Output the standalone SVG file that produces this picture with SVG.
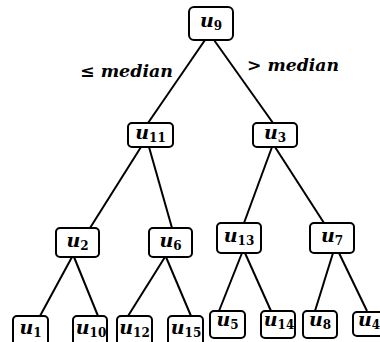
<svg xmlns="http://www.w3.org/2000/svg" width="380" height="342" viewBox="0 0 380 342">
<style>
.box{fill:#fff;stroke:#000;stroke-width:2;}
.lbl{font-family:"DejaVu Serif","Liberation Serif",serif;font-weight:bold;font-style:italic;font-size:19px;fill:#000;text-anchor:middle;}
.sub{font-style:normal;font-size:12px;}
.edge{stroke:#000;stroke-width:2;fill:none;}
.cond{font-family:"DejaVu Serif","Liberation Serif",serif;font-weight:bold;font-style:italic;font-size:17px;fill:#000;}
</style>
<rect width="380" height="342" fill="#fff"/>
<g id="connectors">
<line class="edge" x1="205" y1="40" x2="148" y2="123"/>
<line class="edge" x1="214" y1="40" x2="273" y2="123"/>
<line class="edge" x1="141" y1="147" x2="90" y2="228"/>
<line class="edge" x1="149" y1="147" x2="172" y2="228"/>
<line class="edge" x1="272" y1="147" x2="244" y2="223"/>
<line class="edge" x1="275" y1="147" x2="324" y2="223"/>
<line class="edge" x1="72" y1="257" x2="40" y2="316"/>
<line class="edge" x1="74" y1="257" x2="98" y2="316"/>
<line class="edge" x1="165" y1="257" x2="128" y2="316"/>
<line class="edge" x1="166" y1="257" x2="191" y2="316"/>
<line class="edge" x1="242" y1="253" x2="219" y2="311"/>
<line class="edge" x1="245" y1="253" x2="271" y2="311"/>
<line class="edge" x1="333" y1="253" x2="315" y2="311"/>
<line class="edge" x1="339" y1="253" x2="367" y2="311"/>
</g>
<g id="labels">
<text class="cond" x="80" y="77" textLength="93" lengthAdjust="spacingAndGlyphs">≤ median</text>
<text class="cond" x="247" y="71" textLength="92" lengthAdjust="spacingAndGlyphs">&gt; median</text>
</g>
<g id="u9"><rect class="box" x="189" y="7" width="44" height="33" rx="5"/><text class="lbl" x="211" y="27">u<tspan class="sub" dy="3">9</tspan></text></g>
<g id="u11"><rect class="box" x="128" y="123" width="45" height="24" rx="4"/><text class="lbl" x="150.5" y="139">u<tspan class="sub" dy="3">11</tspan></text></g>
<g id="u3"><rect class="box" x="253" y="123" width="44" height="24" rx="4"/><text class="lbl" x="275" y="139">u<tspan class="sub" dy="3">3</tspan></text></g>
<g id="u2"><rect class="box" x="56" y="228" width="43" height="29" rx="4"/><text class="lbl" x="77.5" y="247">u<tspan class="sub" dy="3">2</tspan></text></g>
<g id="u6"><rect class="box" x="149" y="228" width="43" height="29" rx="4"/><text class="lbl" x="170.5" y="247">u<tspan class="sub" dy="3">6</tspan></text></g>
<g id="u13"><rect class="box" x="217" y="223" width="44" height="30" rx="4"/><text class="lbl" x="239" y="242">u<tspan class="sub" dy="3">13</tspan></text></g>
<g id="u7"><rect class="box" x="310" y="223" width="44" height="30" rx="4"/><text class="lbl" x="332" y="242">u<tspan class="sub" dy="3">7</tspan></text></g>
<g id="u1"><rect class="box" x="13" y="316" width="35" height="32" rx="4"/><text class="lbl" x="30.5" y="334">u<tspan class="sub" dy="3">1</tspan></text></g>
<g id="u10"><rect class="box" x="73" y="316" width="34" height="32" rx="4"/><text class="lbl" x="91" y="334">u<tspan class="sub" dy="3">10</tspan></text></g>
<g id="u12"><rect class="box" x="117" y="316" width="35" height="32" rx="4"/><text class="lbl" x="134.5" y="334">u<tspan class="sub" dy="3">12</tspan></text></g>
<g id="u15"><rect class="box" x="168" y="316" width="35" height="32" rx="4"/><text class="lbl" x="186" y="334">u<tspan class="sub" dy="3">15</tspan></text></g>
<g id="u5"><rect class="box" x="210" y="311" width="35" height="27" rx="4"/><text class="lbl" x="227.5" y="326">u<tspan class="sub" dy="3">5</tspan></text></g>
<g id="u14"><rect class="box" x="261" y="311" width="34" height="27" rx="4"/><text class="lbl" x="279" y="326">u<tspan class="sub" dy="3">14</tspan></text></g>
<g id="u8"><rect class="box" x="303" y="311" width="34" height="27" rx="4"/><text class="lbl" x="320" y="326">u<tspan class="sub" dy="3">8</tspan></text></g>
<g id="u4"><rect class="box" x="353" y="312" width="36" height="24" rx="4"/><text class="lbl" x="369" y="326">u<tspan class="sub" dy="3">4</tspan></text></g>
</svg>
